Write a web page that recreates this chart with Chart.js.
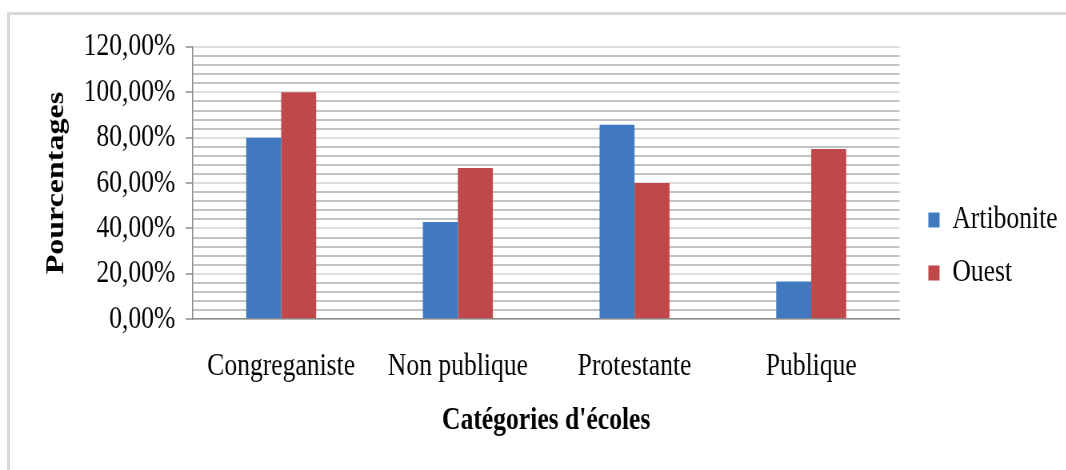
<!DOCTYPE html>
<html>
<head>
<meta charset="utf-8">
<script src="https://cdn.jsdelivr.net/npm/chart.js@4/dist/chart.umd.min.js"></script>
<style>
  html, body { margin: 0; padding: 0; background: #fff; overflow: hidden; }
  #frame {
    position: absolute; left: 7px; top: 12px; width: 1070px; height: 470px;
    border-top: 3px solid #d9d9d9; border-left: 3px solid #d9d9d9;
  }
  /* the original picture is squeezed sideways, so the whole chart is too */
  #wrap {
    position: absolute; left: 0; top: 0; width: 1333px; height: 470px;
    transform: scaleX(0.8); transform-origin: 0 0;
  }
</style>
</head>
<body>
<div id="frame"></div>
<div id="wrap"><canvas id="chart" width="1333" height="470"></canvas></div>
<script>
// data
const categories = ["Congreganiste", "Non publique", "Protestante", "Publique"];
const artibonite = [80, 42.86, 85.71, 16.67];
const ouest = [100, 66.67, 60, 75];
const yTickLabels = ["0,00%", "20,00%", "40,00%", "60,00%", "80,00%", "100,00%", "120,00%"];
const xTitle = "Catégories d'écoles";
const yTitle = "Pourcentages";

const FONT = "'Liberation Serif', 'Times New Roman', serif";

// major lines every 20 %, minor every 4 %
function isMajor(v) {
  return Math.abs(v / 20 - Math.round(v / 20)) < 1e-6;
}

const ctx = document.getElementById("chart").getContext("2d");
new Chart(ctx, {
  type: "bar",
  data: {
    labels: categories,
    datasets: [
      { label: "Artibonite", data: artibonite, backgroundColor: "#4079bd", borderWidth: 0 },
      { label: "Ouest", data: ouest, backgroundColor: "#c0474a", borderWidth: 0 }
    ]
  },
  options: {
    responsive: false,
    animation: false,
    devicePixelRatio: 1,
    layout: { padding: { top: 47, left: 24, right: 1, bottom: 24 } },
    datasets: { bar: { barPercentage: 1, categoryPercentage: 0.396 } },
    plugins: {
      tooltip: { enabled: false },
      legend: {
        position: "right",
        align: "center",
        labels: {
          boxWidth: 14,
          boxHeight: 15,
          padding: 21,
          color: "#000",
          font: { family: FONT, size: 32 }
        }
      }
    },
    scales: {
      x: {
        grid: { display: false, drawTicks: false },
        border: { display: true, color: "#8c8c8c", width: 1.5 },
        ticks: {
          color: "#000",
          padding: 28,
          maxRotation: 0,
          autoSkip: false,
          font: { family: FONT, size: 32 }
        },
        title: {
          display: true,
          text: xTitle,
          color: "#000",
          padding: { top: -12, bottom: 6 },
          font: { family: FONT, size: 32, weight: "bold" }
        }
      },
      y: {
        min: 0,
        max: 120,
        ticks: {
          stepSize: 4,
          autoSkip: false,
          padding: 13,
          color: "#000",
          font: { family: FONT, size: 32 },
          callback: v => isMajor(v) ? yTickLabels[Math.round(v / 20)] : ""
        },
        grid: {
          lineWidth: 2,
          color: c => (c.tick && isMajor(c.tick.value)) ? "#dedede" : "#c2c2c2",
          tickLength: 9,
          tickWidth: 1.5,
          tickColor: c => (c.tick && isMajor(c.tick.value)) ? "#8c8c8c" : "rgba(0,0,0,0)"
        },
        border: { color: "#8c8c8c", width: 1.5 },
        title: {
          display: true,
          text: yTitle,
          color: "#000",
          padding: { top: 28, bottom: 1 },
          font: { family: FONT, size: 32, weight: "bold" }
        }
      },
      // empty spacer between the plot and the legend
      gap: {
        position: "right",
        display: true,
        grid: { display: false, drawTicks: false },
        border: { display: false },
        ticks: { display: false },
        afterFit: s => { s.width = 15; }
      }
    }
  }
});
</script>
</body>
</html>
